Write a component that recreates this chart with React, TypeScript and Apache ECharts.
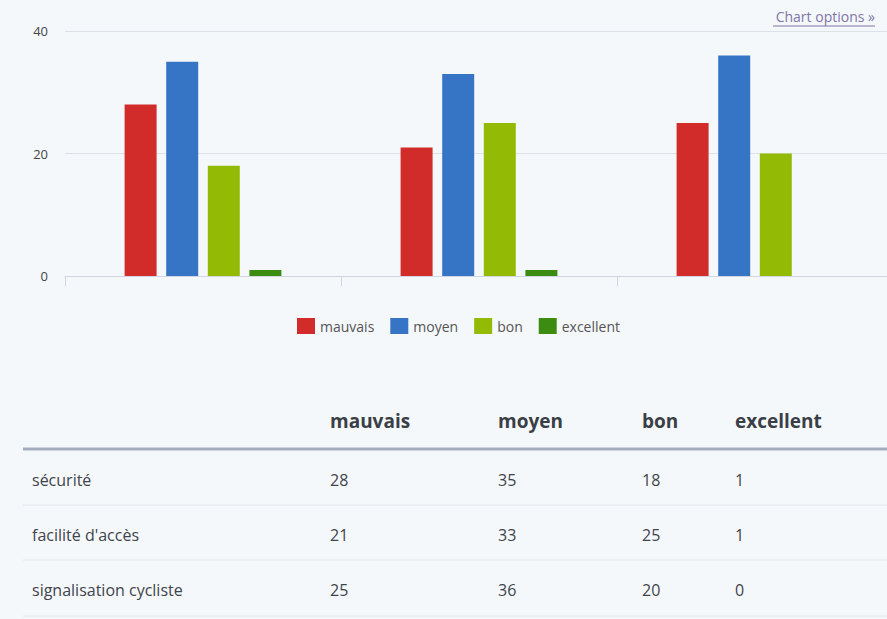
import React, { useEffect, useRef } from "react";
import * as echarts from "echarts";

const categories = ["sécurité", "facilité d'accès", "signalisation cycliste"];
const seriesNames = ["mauvais", "moyen", "bon", "excellent"];
const mauvais = [28, 21, 25];
const moyen = [35, 33, 36];
const bon = [18, 25, 20];
const excellent = [1, 1, 0];
const seriesValues = [mauvais, moyen, bon, excellent];
const colors = ["#d22c2a", "#3674c5", "#93bb06", "#3b8c10"];
const yTicks = [0, 20, 40];

const FONT = "'Open Sans', 'Noto Sans', sans-serif";

export default function App() {
  const ref = useRef<HTMLDivElement>(null);

  useEffect(() => {
    if (!ref.current) return;
    const chart = echarts.init(ref.current, undefined, { renderer: "svg" });

    const colX = [330, 498, 642, 735];
    const rowY = [480, 535, 590];
    const sepY = [505, 560, 616];

    const graphics: any[] = [];
    graphics.push({
      type: "text",
      x: 875,
      y: 16,
      style: {
        text: "Chart options »",
        align: "right",
        verticalAlign: "middle",
        fill: "#8075a8",
        font: `14px ${FONT}`,
      },
    });
    graphics.push({
      type: "line",
      shape: { x1: 773, y1: 26, x2: 875, y2: 26 },
      style: { stroke: "#8075a8", lineWidth: 1 },
    });
    seriesNames.forEach((n, i) => {
      graphics.push({
        type: "text",
        x: colX[i],
        y: 421,
        style: {
          text: n,
          align: "left",
          verticalAlign: "middle",
          fill: "#3a3f47",
          font: `bold 19px ${FONT}`,
        },
      });
    });
    graphics.push({
      type: "line",
      shape: { x1: 23, y1: 449, x2: 893, y2: 449 },
      style: { stroke: "#a3adbe", lineWidth: 3 },
    });
    categories.forEach((c, r) => {
      graphics.push({
        type: "text",
        x: 32,
        y: rowY[r],
        style: {
          text: c,
          align: "left",
          verticalAlign: "middle",
          fill: "#3f444b",
          font: `16px ${FONT}`,
        },
      });
      seriesValues.forEach((vals, i) => {
        graphics.push({
          type: "text",
          x: colX[i],
          y: rowY[r],
          style: {
            text: String(vals[r]),
            align: "left",
            verticalAlign: "middle",
            fill: "#3f444b",
            font: `16px ${FONT}`,
          },
        });
      });
      graphics.push({
        type: "line",
        shape: { x1: 23, y1: sepY[r], x2: 893, y2: sepY[r] },
        style: { stroke: "#e2e6ec", lineWidth: 1 },
      });
    });

    chart.setOption({
      animation: false,
      backgroundColor: "#f5f8fb",
      textStyle: { fontFamily: FONT },
      grid: { left: 65, top: 31, right: 0, height: 245, containLabel: false },
      legend: {
        data: seriesNames,
        left: 297,
        top: 318,
        padding: 0,
        icon: "rect",
        itemWidth: 18,
        itemHeight: 16,
        itemGap: 16,
        textStyle: { fontSize: 14, color: "#555", fontFamily: FONT },
      },
      xAxis: {
        type: "category",
        data: categories,
        axisLine: { lineStyle: { color: "#cfd6df" } },
        axisTick: { show: true, length: 10, lineStyle: { color: "#cfd6df" } },
        axisLabel: { show: false },
      },
      yAxis: {
        type: "value",
        min: yTicks[0],
        max: yTicks[yTicks.length - 1],
        interval: 20,
        axisLine: { show: false },
        axisTick: { show: false },
        axisLabel: { fontSize: 13, color: "#444", margin: 17, fontFamily: FONT },
        splitLine: { lineStyle: { color: "#dde2e8" } },
      },
      series: seriesNames.map((n, i) => ({
        name: n,
        type: "bar",
        data: seriesValues[i],
        barWidth: 32,
        barGap: "30%",
        itemStyle: { color: colors[i] },
      })),
      graphic: graphics,
    });

    return () => chart.dispose();
  }, []);

  return (
    <div
      style={{
        position: "absolute",
        left: 0,
        top: 0,
        width: 887,
        height: 619,
        overflow: "hidden",
        background: "#f5f8fb",
      }}
    >
      <div ref={ref} style={{ width: 893, height: 619 }} />
    </div>
  );
}
